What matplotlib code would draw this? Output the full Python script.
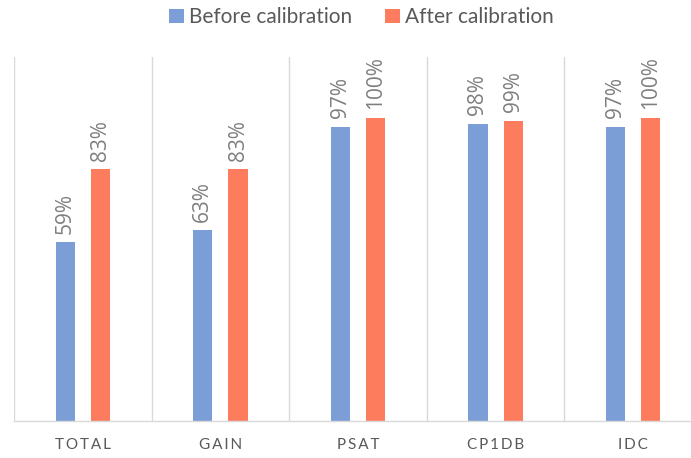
import matplotlib
matplotlib.use("Agg")
import matplotlib.pyplot as plt
import numpy as np

categories = ["TOTAL", "GAIN", "PSAT", "CP1DB", "IDC"]
before = [59, 63, 97, 98, 97]
after = [83, 83, 100, 99, 100]
series_names = ["Before calibration", "After calibration"]

blue = "#7C9ED7"
orange = "#FD7C5E"
grid_col = "#D9D9D9"
text_col = "#595959"
label_col = "#7F7F7F"

plt.rcParams["font.family"] = ["Lato", "DejaVu Sans"]

fig = plt.figure(figsize=(6.91, 4.58), dpi=100)
# plot area runs slightly past the right edge of the figure
ax = fig.add_axes([14 / 691, (458 - 421) / 458, 688 / 691, (421 - 57) / 458])

x = np.arange(len(categories))
w = 0.14
off = 0.128
b1 = ax.bar(x - off, before, w, color=blue, label=series_names[0])
b2 = ax.bar(x + off, after, w, color=orange, label=series_names[1])

for bars, vals in ((b1, before), (b2, after)):
    for rect, v in zip(bars, vals):
        ax.annotate(f"{v}%", (rect.get_x() + rect.get_width() / 2, v),
                    xytext=(0, 6), textcoords="offset points",
                    rotation=90, ha="center", va="bottom",
                    fontsize=15, color=label_col, family=["Open Sans", "DejaVu Sans"])

ax.set_xlim(-0.5, len(categories) - 0.5)
ax.set_ylim(0, 120)

for b in np.arange(len(categories) + 1) - 0.5:
    ax.axvline(b, color=grid_col, lw=1.0, zorder=0)

for s in ("top", "right", "left"):
    ax.spines[s].set_visible(False)
ax.spines["bottom"].set_color(grid_col)
ax.spines["bottom"].set_linewidth(1.0)

ax.set_yticks([])
ax.set_xticks(x)
ax.set_xticklabels(["\u2009".join(c) for c in categories], fontsize=11, color=text_col)
ax.tick_params(axis="x", length=0, pad=12)

fig.legend(handles=[b1, b2], labels=series_names, loc="upper center",
           bbox_to_anchor=(0.523, 1.025), ncol=2, frameon=False,
           fontsize=15, labelcolor=text_col, handlelength=0.7, handleheight=0.7,
           handletextpad=0.25, columnspacing=1.6)

fig.savefig("out.png", dpi=100)
